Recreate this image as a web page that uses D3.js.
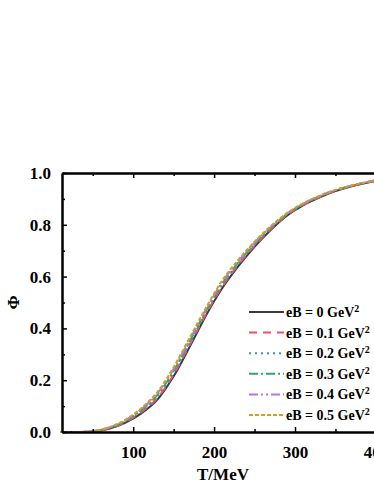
<!DOCTYPE html>
<html>
<head>
<meta charset="utf-8">
<script src="https://cdn.jsdelivr.net/npm/d3@7"></script>
<style>
  body { margin: 0; background: #fff; }
  svg text { font-family: "Liberation Serif", "Times New Roman", serif; font-weight: bold; }
</style>
</head>
<body>
<svg id="chart" width="374" height="484"></svg>
<script>
// temperature grid (MeV)
const temps = [10, 30, 50, 70, 90, 110, 130, 150, 170, 190, 210, 230, 250, 270, 290, 310, 330, 350, 375, 400];

// Polyakov loop Phi for each eB
const phi0  = [0, 0, 0.002, 0.012, 0.035, 0.072, 0.125, 0.215, 0.330, 0.450, 0.555, 0.640, 0.715, 0.780, 0.835, 0.875, 0.905, 0.930, 0.953, 0.970];
const phi01 = [0, 0, 0.002, 0.013, 0.037, 0.076, 0.131, 0.222, 0.337, 0.456, 0.561, 0.645, 0.719, 0.783, 0.837, 0.877, 0.906, 0.931, 0.954, 0.970];
const phi02 = [0, 0, 0.003, 0.014, 0.040, 0.080, 0.137, 0.229, 0.344, 0.462, 0.567, 0.650, 0.723, 0.786, 0.839, 0.878, 0.908, 0.932, 0.954, 0.971];
const phi03 = [0, 0, 0.003, 0.016, 0.042, 0.084, 0.143, 0.236, 0.351, 0.468, 0.573, 0.655, 0.727, 0.789, 0.841, 0.880, 0.909, 0.933, 0.955, 0.971];
const phi04 = [0, 0, 0.004, 0.017, 0.045, 0.088, 0.149, 0.243, 0.358, 0.474, 0.579, 0.660, 0.731, 0.792, 0.843, 0.881, 0.911, 0.934, 0.955, 0.972];
const phi05 = [0, 0, 0.004, 0.018, 0.047, 0.092, 0.155, 0.250, 0.365, 0.480, 0.585, 0.665, 0.735, 0.795, 0.845, 0.883, 0.912, 0.935, 0.956, 0.972];

const labels = ["0", "0.1", "0.2", "0.3", "0.4", "0.5"];
const xTicks = [100, 200, 300, 400];
const xMinor = [50, 150, 250, 350];
const yTicks = [0, 0.2, 0.4, 0.6, 0.8, 1.0];
const yMinor = [0.1, 0.3, 0.5, 0.7, 0.9];

const series = [phi0, phi01, phi02, phi03, phi04, phi05];
const colors = ["#3a3a3a", "#f4505a", "#3a86f0", "#2fa66a", "#a97ae8", "#d6a012"];
const dashes = [null, "8,6", "2,4", "9,3,2,3", "9,3,2,3,2,3", "4,2"];

const svg = d3.select("#chart");
const mLeft = 62, mTop = 173, mBottom = 432, mRight = 384;

const x = d3.scaleLinear().domain([12, 410]).range([mLeft, mRight]);
const y = d3.scaleLinear().domain([0, 1]).range([mBottom, mTop]);

// curves
const line = d3.line()
  .x((d, i) => x(temps[i]))
  .y(d => y(d))
  .curve(d3.curveMonotoneX);

const plot = svg.append("g");
series.forEach((s, k) => {
  plot.append("path")
    .attr("d", line(s))
    .attr("fill", "none")
    .attr("stroke", colors[k])
    .attr("stroke-width", 2)
    .attr("stroke-dasharray", dashes[k]);
});

// axes (ticks inward)
const fmt = d3.format(".1f");
svg.append("g").attr("transform", `translate(0,${mBottom})`)
  .call(d3.axisBottom(x).tickValues(xTicks).tickSizeInner(-5).tickSizeOuter(0).tickPadding(14));
svg.append("g").attr("transform", `translate(0,${mBottom})`)
  .call(d3.axisBottom(x).tickValues(xMinor).tickSizeInner(-3).tickSizeOuter(0).tickFormat(""));
svg.append("g").attr("transform", `translate(0,${mTop})`)
  .call(d3.axisTop(x).tickValues(xTicks).tickSizeInner(-5).tickSizeOuter(0).tickFormat(""));
svg.append("g").attr("transform", `translate(0,${mTop})`)
  .call(d3.axisTop(x).tickValues(xMinor).tickSizeInner(-3).tickSizeOuter(0).tickFormat(""));
svg.append("g").attr("transform", `translate(${mLeft},0)`)
  .call(d3.axisLeft(y).tickValues(yTicks).tickFormat(fmt).tickSizeInner(-5).tickSizeOuter(0).tickPadding(11));
svg.append("g").attr("transform", `translate(${mLeft},0)`)
  .call(d3.axisLeft(y).tickValues(yMinor).tickSizeInner(-3).tickSizeOuter(0).tickFormat(""));
svg.append("g").attr("transform", `translate(${mRight},0)`)
  .call(d3.axisRight(y).tickValues(yTicks).tickSizeInner(-5).tickSizeOuter(0).tickFormat(""));

svg.selectAll(".domain").attr("stroke", "#000").attr("stroke-width", 2);
svg.selectAll(".tick line").attr("stroke", "#000").attr("stroke-width", 1.5);
svg.selectAll(".tick text").attr("font-size", 17).attr("fill", "#000")
  .attr("font-family", "Liberation Serif").attr("font-weight", "bold");

// axis titles
svg.append("text").attr("x", (mLeft + mRight) / 2).attr("y", 480)
  .attr("text-anchor", "middle").attr("font-size", 17).text("T/MeV");
svg.append("text").attr("transform", `translate(19,${(mTop + mBottom) / 2}) rotate(-90)`)
  .attr("text-anchor", "middle").attr("font-size", 17).attr("font-weight", "normal").text("Φ");

// legend
const leg = svg.append("g");
labels.forEach((lab, k) => {
  const ly = 312 + k * 20.6;
  leg.append("line").attr("x1", 249).attr("x2", 284).attr("y1", ly).attr("y2", ly)
    .attr("stroke", colors[k]).attr("stroke-width", 2).attr("stroke-dasharray", dashes[k]);
  const t = leg.append("text").attr("x", 286).attr("y", ly + 5).attr("font-size", 14);
  t.append("tspan").text(`eB = ${lab} GeV`);
  t.append("tspan").attr("dy", -5).attr("font-size", 10).text("2");
});
</script>
</body>
</html>
